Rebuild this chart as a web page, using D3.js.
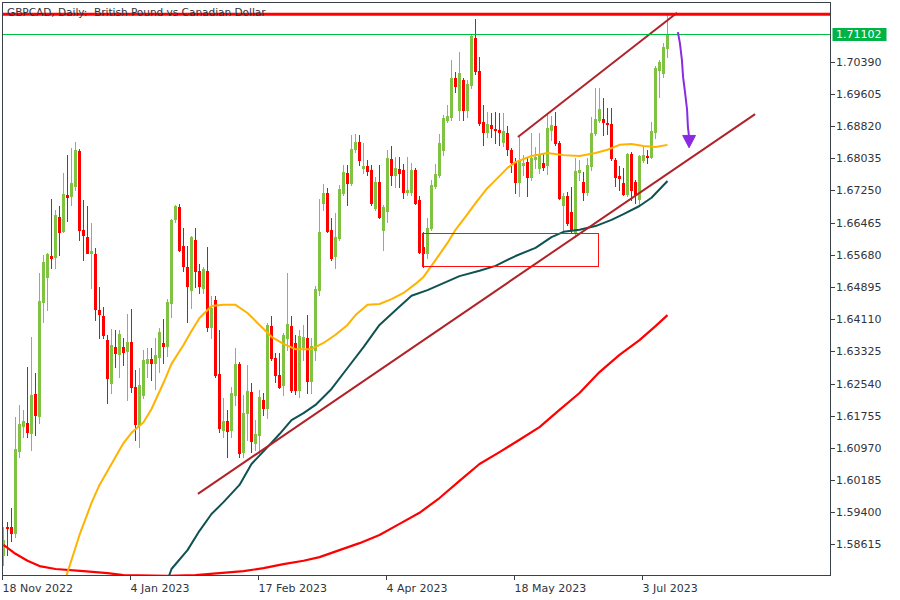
<!DOCTYPE html>
<html><head><meta charset="utf-8">
<script src="https://cdn.jsdelivr.net/npm/d3@7"></script>
<style>body{margin:0;background:#fff}svg{display:block}text{font-family:"DejaVu Sans",sans-serif}</style>
</head><body><svg id="c" width="900" height="600"></svg>
<script>
// ---------- DATA ----------
const title = "GBPCAD, Daily:  British Pound vs Canadian Dollar";
const opens = [1.5837,1.5905,1.5905,1.5891,1.6091,1.6152,1.6159,1.6135,1.6230,1.6176,
1.6454,1.6515,1.6566,1.6564,1.6661,1.6627,1.6715,1.6712,1.6737,1.6822,
1.6630,1.6612,1.6573,1.6571,1.6434,1.6420,1.6361,1.6257,1.6344,1.6327,
1.6344,1.6335,1.6356,1.6247,1.6154,1.6227,1.6305,1.6315,1.6305,1.6320,
1.6354,1.6347,1.6452,1.6656,1.6686,1.6591,1.6539,1.6483,1.6605,1.6530,
1.6488,1.6530,1.6393,1.6459,1.6278,1.6142,1.6164,1.6142,1.6227,1.6303,
1.6088,1.6183,1.6235,1.6110,1.6130,1.6215,1.6196,1.6395,1.6317,1.6276,
1.6252,1.6366,1.6395,1.6354,1.6239,1.6344,1.6366,1.6261,1.6337,1.6483,
1.6695,1.6720,1.6630,1.6566,1.6610,1.6720,1.6768,1.6744,1.6827,1.6844,
1.6781,1.6786,1.6776,1.6683,1.6747,1.6630,1.6676,1.6803,1.6764,1.6778,
1.6776,1.6722,1.6722,1.6776,1.6703,1.6588,1.6573,1.6634,1.6737,1.6764,
1.6825,1.6898,1.6905,1.7000,1.6922,1.6995,1.6922,1.6983,1.7098,1.7017,
1.6893,1.6868,1.6885,1.6876,1.6873,1.6844,1.6866,1.6825,1.6795,1.6747,
1.6788,1.6795,1.6759,1.6803,1.6781,1.6793,1.6788,1.6873,1.6883,1.6842,
1.6690,1.6712,1.6673,1.6622,1.6771,1.6747,1.6722,1.6786,1.6866,1.6898,
1.6900,1.6890,1.6888,1.6800,1.6761,1.6744,1.6717,1.6815,1.6747,1.6705,
1.6800,1.6810,1.6807,1.6868,1.7020,1.7012,1.7073];
const highs = [1.5905,1.5918,1.5952,1.6174,1.6203,1.6191,1.6295,1.6369,1.6281,1.6525,
1.6569,1.6573,1.6705,1.6678,1.6688,1.6768,1.6812,1.6829,1.6844,1.6827,
1.6703,1.6688,1.6647,1.6586,1.6491,1.6442,1.6374,1.6388,1.6386,1.6386,
1.6366,1.6425,1.6437,1.6288,1.6293,1.6337,1.6342,1.6342,1.6366,1.6391,
1.6413,1.6461,1.6656,1.6690,1.6693,1.6634,1.6591,1.6615,1.6634,1.6547,
1.6539,1.6588,1.6469,1.6469,1.6386,1.6220,1.6191,1.6247,1.6342,1.6308,
1.6227,1.6300,1.6257,1.6166,1.6239,1.6232,1.6403,1.6420,1.6330,1.6330,
1.6378,1.6525,1.6420,1.6374,1.6386,1.6398,1.6422,1.6366,1.6493,1.6705,
1.6742,1.6732,1.6659,1.6671,1.6739,1.6788,1.6788,1.6861,1.6864,1.6861,
1.6842,1.6800,1.6788,1.6759,1.6788,1.6690,1.6825,1.6834,1.6807,1.6807,
1.6790,1.6807,1.6793,1.6781,1.6712,1.6625,1.6659,1.6751,1.6790,1.6864,
1.6910,1.6934,1.7044,1.7015,1.7063,1.7000,1.6995,1.7107,1.7144,1.7051,
1.6934,1.6917,1.6915,1.6917,1.6915,1.6915,1.6883,1.6829,1.6805,1.6856,
1.6812,1.6807,1.6866,1.6832,1.6866,1.6817,1.6915,1.6907,1.6917,1.6847,
1.6720,1.6722,1.6734,1.6805,1.6800,1.6771,1.6805,1.6905,1.6976,1.6976,
1.6951,1.6927,1.6927,1.6805,1.6786,1.6781,1.6817,1.6820,1.6751,1.6812,
1.6832,1.6825,1.6893,1.7029,1.7044,1.7085,1.7156];
const lows = [1.5813,1.5837,1.5871,1.5881,1.6076,1.6125,1.6125,1.6093,1.6130,1.6159,
1.6405,1.6434,1.6537,1.6537,1.6569,1.6625,1.6651,1.6690,1.6727,1.6605,
1.6556,1.6573,1.6488,1.6410,1.6366,1.6366,1.6208,1.6232,1.6295,1.6271,
1.6300,1.6215,1.6235,1.6118,1.6100,1.6220,1.6271,1.6264,1.6242,1.6283,
1.6305,1.6322,1.6417,1.6649,1.6578,1.6530,1.6405,1.6439,1.6491,1.6476,
1.6476,1.6383,1.6366,1.6271,1.6137,1.6125,1.6076,1.6125,1.6203,1.6076,
1.6076,1.6118,1.6088,1.6093,1.6086,1.6178,1.6171,1.6313,1.6259,1.6244,
1.6227,1.6337,1.6235,1.6230,1.6222,1.6313,1.6232,1.6232,1.6313,1.6471,
1.6678,1.6625,1.6556,1.6537,1.6605,1.6715,1.6690,1.6739,1.6820,1.6788,
1.6768,1.6764,1.6690,1.6678,1.6659,1.6581,1.6649,1.6739,1.6734,1.6734,
1.6708,1.6715,1.6715,1.6693,1.6573,1.6539,1.6561,1.6630,1.6732,1.6759,
1.6812,1.6893,1.6898,1.6966,1.6898,1.6898,1.6905,1.6976,1.7010,1.6885,
1.6837,1.6856,1.6856,1.6842,1.6837,1.6834,1.6812,1.6771,1.6720,1.6712,
1.6764,1.6712,1.6751,1.6781,1.6768,1.6776,1.6766,1.6849,1.6837,1.6705,
1.6622,1.6642,1.6625,1.6612,1.6751,1.6703,1.6715,1.6776,1.6861,1.6893,
1.6861,1.6864,1.6800,1.6737,1.6727,1.6715,1.6712,1.6703,1.6695,1.6693,
1.6795,1.6793,1.6805,1.6854,1.6954,1.7002,1.7051];
const closes = [1.5874,1.5903,1.5891,1.6096,1.6156,1.6164,1.6137,1.6227,1.6178,1.6456,
1.6551,1.6571,1.6561,1.6666,1.6625,1.6717,1.6710,1.6744,1.6825,1.6630,
1.6617,1.6573,1.6578,1.6437,1.6425,1.6374,1.6269,1.6349,1.6330,1.6376,
1.6332,1.6356,1.6247,1.6156,1.6252,1.6313,1.6315,1.6305,1.6325,1.6381,
1.6347,1.6454,1.6654,1.6688,1.6581,1.6542,1.6493,1.6612,1.6530,1.6493,
1.6534,1.6393,1.6439,1.6276,1.6147,1.6164,1.6140,1.6232,1.6303,1.6086,
1.6183,1.6237,1.6115,1.6132,1.6222,1.6196,1.6398,1.6317,1.6276,1.6247,
1.6374,1.6400,1.6239,1.6239,1.6371,1.6369,1.6261,1.6347,1.6486,1.6625,
1.6720,1.6627,1.6561,1.6612,1.6730,1.6771,1.6744,1.6827,1.6844,1.6800,
1.6786,1.6773,1.6695,1.6747,1.6661,1.6686,1.6805,1.6764,1.6781,1.6768,
1.6722,1.6727,1.6776,1.6695,1.6576,1.6573,1.6634,1.6739,1.6766,1.6842,
1.6903,1.6907,1.7000,1.6981,1.7012,1.6922,1.6985,1.7103,1.7017,1.6890,
1.6868,1.6888,1.6878,1.6873,1.6868,1.6871,1.6827,1.6795,1.6747,1.6800,
1.6793,1.6759,1.6805,1.6807,1.6812,1.6783,1.6878,1.6885,1.6842,1.6708,
1.6712,1.6647,1.6630,1.6773,1.6776,1.6722,1.6788,1.6866,1.6900,1.6925,
1.6893,1.6888,1.6805,1.6759,1.6756,1.6717,1.6815,1.6727,1.6715,1.6810,
1.6812,1.6807,1.6871,1.7024,1.7039,1.7076,1.7107];

// moving averages: bar index + value
const maFastIdx = [15,19,22,24,27,30,32,35,37,40,42,45,47,49,52,55,58,61,64,67,70,73,77,80,83,86,88,91,94,97,100,103,105,108,111,113,116,118,121,123,126,128,132,136,140,144,148,151,154,157,160,163,166];
const maFastVal = [1.5764,1.5886,1.5964,1.6008,1.6059,1.6110,1.6135,1.6161,1.6193,1.6257,1.6303,1.6349,1.6383,1.6415,1.6444,1.6447,1.6447,1.6427,1.6398,1.6369,1.6352,1.6339,1.6339,1.6354,1.6374,1.6398,1.6422,1.6447,1.6449,1.6461,1.6476,1.6498,1.6515,1.6556,1.6598,1.6630,1.6668,1.6695,1.6732,1.6751,1.6781,1.6795,1.6810,1.6817,1.6812,1.6810,1.6817,1.6825,1.6837,1.6839,1.6834,1.6832,1.6837];
const maMidIdx = [41,42,46,49,52,55,59,62,66,69,72,75,78,82,86,90,94,98,102,106,110,114,119,123,128,133,137,140,144,148,152,155,159,162,166];
const maMidVal = [1.5776,1.5803,1.5849,1.5896,1.5937,1.5966,1.6008,1.6059,1.6100,1.6132,1.6166,1.6183,1.6203,1.6242,1.6293,1.6344,1.6398,1.6434,1.6469,1.6483,1.6500,1.6517,1.6530,1.6542,1.6566,1.6586,1.6612,1.6625,1.6630,1.6639,1.6654,1.6668,1.6688,1.6708,1.6749];
const maSlowIdx = [0,3,6,9,13,20,26,30,41,48,54,60,65,70,75,79,84,89,94,99,104,109,114,119,124,129,134,139,144,149,154,159,163,166];
const maSlowVal = [1.5862,1.5840,1.5823,1.5810,1.5803,1.5798,1.5793,1.5788,1.5786,1.5788,1.5793,1.5798,1.5805,1.5815,1.5823,1.5832,1.5849,1.5866,1.5886,1.5913,1.5940,1.5976,1.6018,1.6059,1.6088,1.6118,1.6149,1.6191,1.6232,1.6283,1.6325,1.6361,1.6395,1.6422];

// axis ticks
const yTicks = [1.70390,1.69605,1.68820,1.68035,1.67250,1.66465,1.65680,1.64895,1.64110,1.63325,1.62540,1.61755,1.60970,1.60185,1.59400,1.58615];
const xTickIdx = [0,32,64,96,128,160];
const xTickLabels = ["18 Nov 2022","4 Jan 2023","17 Feb 2023","4 Apr 2023","18 May 2023","3 Jul 2023"];

// drawn objects (bar index, price)
const resistanceLevel = 1.71553;
const currentPrice = 1.71102;
const lowerTrend = [[48.6,1.5986],[187.9,1.6912]];
const upperTrend = [[128.6,1.6856],[168.4,1.7159]];
const zoneBox = {i0:104.6, i1:148.6, top:1.6621, bottom:1.6542};
const arrowPath = [[168.6,1.7112],[169.1,1.7085],[169.6,1.7044],[169.9,1.7002],[170.4,1.6964],[170.9,1.6922],[171.1,1.6881],[171.4,1.6856]];
const arrowHead = [[169.8,1.6860],[173.0,1.6860],[171.4,1.6830]];

// ---------- CHART ----------
const svg = d3.select("#c");
const L = 2.5, R = 830.5, T = 2.5, B = 575.5;
const x = d3.scaleLinear().domain([0, 200]).range([3.5, 803.5]);
const y = d3.scaleLinear().domain([1.57859, 1.71902]).range([576, 0]);
const px = v => Math.round(v - 0.5) + 0.5;

svg.append("defs").append("clipPath").attr("id","plot")
  .append("rect").attr("x",L).attr("y",T).attr("width",R-L).attr("height",B-T);

const g = svg.append("g").attr("clip-path","url(#plot)");

// candles
const bars = opens.map((o,i)=>({i,o,h:highs[i],l:lows[i],c:closes[i]}));
const cg = g.append("g").attr("shape-rendering","crispEdges");
bars.forEach(d=>{
  const col = d.c >= d.o ? "#80c342" : "#ff0000";
  const cx = x(d.i);
  cg.append("line").attr("x1",cx).attr("x2",cx)
    .attr("y1",Math.round(y(d.h))).attr("y2",Math.round(y(d.l))+1)
    .attr("stroke",col).attr("stroke-width",1);
  const y0 = Math.round(y(Math.max(d.o,d.c))), y1 = Math.round(y(Math.min(d.o,d.c)));
  cg.append("rect").attr("x",cx-1.5).attr("width",3)
    .attr("y",y0).attr("height",Math.max(1,y1-y0+1)).attr("fill",col);
});

// moving averages
const line = d3.line().x(d=>x(d[0])).y(d=>y(d[1]));
function ma(idx, val, col, w){
  g.append("path").datum(idx.map((k,j)=>[k,val[j]]))
   .attr("d",line).attr("fill","none").attr("stroke",col).attr("stroke-width",w)
   .attr("stroke-linejoin","round");
}
ma(maSlowIdx, maSlowVal, "#ff0000", 2.2);
ma(maMidIdx, maMidVal, "#0f5252", 2);
ma(maFastIdx, maFastVal, "#ffb300", 2);

// trend lines
[lowerTrend, upperTrend].forEach(t=>{
  g.append("path").datum(t).attr("d",line).attr("fill","none")
   .attr("stroke","#b0232a").attr("stroke-width",2);
});

// zone rectangle (filled thin bars for each edge)
const zx0 = Math.round(x(zoneBox.i0)), zx1 = Math.round(x(zoneBox.i1));
const zy0 = Math.round(y(zoneBox.top)), zy1 = Math.round(y(zoneBox.bottom));
const zg = g.append("g").attr("fill","#ff1010");
zg.append("rect").attr("x",zx0).attr("y",zy0).attr("width",zx1-zx0+1).attr("height",1);
zg.append("rect").attr("x",zx0).attr("y",zy1).attr("width",zx1-zx0+1).attr("height",1);
zg.append("rect").attr("x",zx0).attr("y",zy0).attr("width",1).attr("height",zy1-zy0+1);
zg.append("rect").attr("x",zx1).attr("y",zy0).attr("width",1).attr("height",zy1-zy0+1);

// horizontal levels
g.append("line").attr("x1",L).attr("x2",R).attr("y1",y(resistanceLevel)).attr("y2",y(resistanceLevel))
  .attr("stroke","#ff0000").attr("stroke-width",3);
const gy = Math.round(y(currentPrice)) + 1;
g.append("rect").attr("x",L).attr("y",gy).attr("width",R-L).attr("height",1).attr("fill","#00c040");

// arrow
g.append("path").datum(arrowPath).attr("d",line).attr("fill","none")
  .attr("stroke","#8a2be2").attr("stroke-width",2);
g.append("path").attr("d",line(arrowHead)+"Z")
  .attr("fill","#8a2be2").attr("stroke","#8a2be2").attr("stroke-width",1);

// frame
svg.append("rect").attr("x",L).attr("y",T).attr("width",R-L).attr("height",B-T)
  .attr("fill","none").attr("stroke","#3c4048").attr("stroke-width",1).attr("shape-rendering","crispEdges");

// y axis
const yg = svg.append("g");
yTicks.forEach(v=>{
  const yy = px(y(v));
  yg.append("line").attr("x1",R).attr("x2",R+4).attr("y1",yy).attr("y2",yy)
    .attr("stroke","#3c4048").attr("shape-rendering","crispEdges");
  yg.append("text").attr("x",R+5.5).attr("y",yy).attr("dy","0.36em")
    .attr("font-size","11px").attr("fill","#30343c").text(v.toFixed(5));
});
// current price tag
const cy = gy + 0.5;
yg.append("rect").attr("x",R+2).attr("y",cy-6.5).attr("width",54).attr("height",13).attr("fill","#00b346");
yg.append("text").attr("x",R+5.5).attr("y",cy).attr("dy","0.36em")
  .attr("font-size","11px").attr("fill","#ffffff").text(currentPrice.toFixed(5));

// x axis
const xg = svg.append("g");
xTickIdx.forEach((k,j)=>{
  const xx = px(x(k)-1);
  xg.append("line").attr("x1",xx).attr("x2",xx).attr("y1",B).attr("y2",B+4.5)
    .attr("stroke","#3c4048").attr("shape-rendering","crispEdges");
  xg.append("text").attr("x",xx).attr("y",592).attr("font-size","11px")
    .attr("fill","#30343c").text(xTickLabels[j]);
});

// title
svg.append("text").attr("x",7).attr("y",16).attr("font-size","10.5px")
  .style("white-space","pre").attr("fill","#2e3238").text(title);
</script></body></html>
